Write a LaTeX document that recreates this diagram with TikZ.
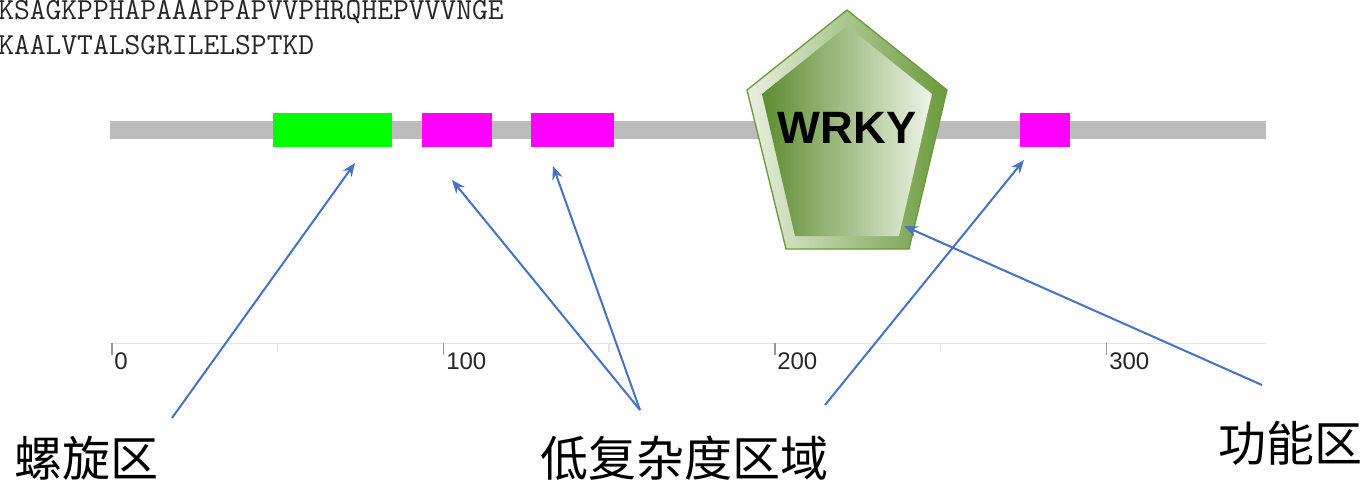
\documentclass[tikz,border=0pt]{standalone}
\usepackage{fontspec}
\setmainfont{Liberation Sans}
\newfontfamily\cjk{Noto Sans CJK SC}
\usetikzlibrary{arrows.meta}
\definecolor{bargray}{HTML}{BBBBBB}
\definecolor{helixgreen}{HTML}{00FF00}
\definecolor{lcmag}{HTML}{FF00FF}
\definecolor{arrowblue}{HTML}{4472C4}
\definecolor{rimdark}{HTML}{6A9A3C}
\definecolor{rimlight}{HTML}{E8F0DE}
\definecolor{indark}{HTML}{5C8C30}
\definecolor{inlight}{HTML}{EEF4E6}
\definecolor{axisgray}{HTML}{E4E4E4}
\definecolor{tickgray}{HTML}{999999}
\tikzset{
  seg/.style={draw=none, inner sep=0pt, minimum height=34*0.75pt},
  pointer/.style={draw=arrowblue, line width=1.5pt, -{Stealth[length=10pt, width=8pt]}},
  cnlabel/.style={font=\cjk\fontsize{36}{40}\selectfont, inner sep=0pt, text=black},
  ticklabel/.style={font=\fontsize{18}{20}\selectfont, text=black!85, anchor=base west, inner sep=0pt},
  seqtext/.style={font=\ttfamily\fontsize{23}{25}\selectfont, text=black!85, anchor=base west, inner sep=0pt},
}
\begin{document}
\begin{tikzpicture}[x=0.75pt,y=-0.75pt]
\path[use as bounding box] (0,0) rectangle (1368,483);
% sequence text
\node[seqtext] (seq1) at (-2,19) {KSAGKPPHAPAAAPPAPVVPHRQHEPVVVNGE};
\node[seqtext] (seq2) at (-2,54) {KAALVTALSGRILELSPTKD};
% backbone
\fill[bargray] (110,121) rectangle (1266,139);
% segments
\node[seg, fill=helixgreen, minimum width=119*0.75pt] (helix) at (332.5,130) {};
\node[seg, fill=lcmag, minimum width=70*0.75pt] (lc1) at (457,130) {};
\node[seg, fill=lcmag, minimum width=83*0.75pt] (lc2) at (572.5,130) {};
\node[seg, fill=lcmag, minimum width=50*0.75pt] (lc3) at (1045,130) {};
% WRKY pentagon
\shade[left color=rimlight, right color=rimdark, draw=rimdark, line width=1pt]
  (847,10) -- (947,90) -- (909,249) -- (786,249) -- (747,90) -- cycle;
\shade[left color=indark, right color=inlight]
  (847,26) -- (932,94) -- (899,236) -- (795,236) -- (762,94) -- cycle;
\node[font=\bfseries\fontsize{34}{36}\selectfont, text=black, inner sep=0pt] (wrky) at (847,128) {WRKY};
% axis
\draw[axisgray, line width=0.75pt] (110,343) -- (1266,343);
\foreach \x in {277.5,609,940.5} \draw[axisgray, line width=1pt] (\x,343) -- (\x,352);
\foreach \x in {112,443.5,775,1106.5} \draw[tickgray, line width=1pt] (\x,343) -- (\x,355);
\node[ticklabel] (t0) at (114,369) {0};
\node[ticklabel] (t100) at (446,369) {100};
\node[ticklabel] (t200) at (777,369) {200};
\node[ticklabel] (t300) at (1109,369) {300};
% labels
\node[cnlabel] (lhelix) at (87,458) {螺旋区};
\node[cnlabel] (llc) at (684,458) {低复杂度区域};
\node[cnlabel] (lfun) at (1290,443) {功能区};
% arrow endpoints
\coordinate (a1s) at (172,418);
\coordinate (a1e) at (355,163);
\coordinate (a2s) at (640,410);
\coordinate (a2e) at (452,180);
\coordinate (a3e) at (553,166);
\coordinate (a4s) at (825,405);
\coordinate (a4e) at (1024,160);
\coordinate (a5s) at (1262,385);
\coordinate (a5e) at (904,226);
\draw[pointer] (a1s) -- (a1e);
\draw[pointer] (a2s) -- (a2e);
\draw[pointer] (a2s) -- (a3e);
\draw[pointer] (a4s) -- (a4e);
\draw[pointer] (a5s) -- (a5e);
\end{tikzpicture}
\end{document}
